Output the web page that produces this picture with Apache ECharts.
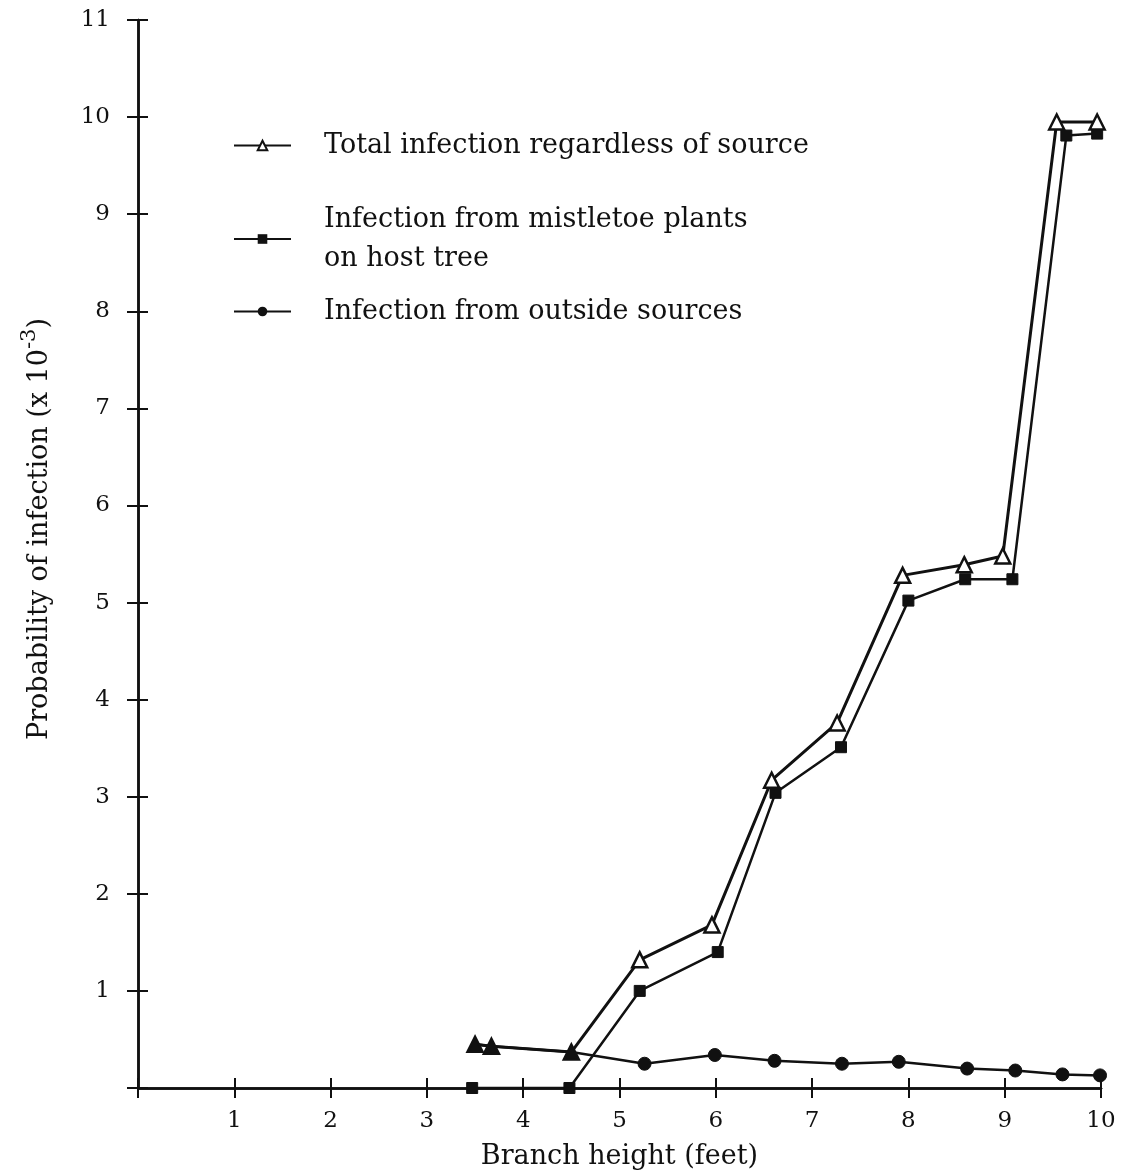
<!DOCTYPE html>
<html><head><meta charset="utf-8">
<script src="https://cdn.jsdelivr.net/npm/echarts@6/dist/echarts.min.js"></script>
<style>html,body{margin:0;padding:0;background:#fff}#c{width:1128px;height:1172px}</style>
</head><body><div id="c"></div>
<script>
// ---- data ----
const seriesNames = [
  'Total infection regardless of source',
  'Infection from mistletoe plants\non host tree',
  'Infection from outside sources'
];
const totalX = [3.50, 3.67, 4.50, 5.21, 5.96, 6.58, 7.26, 7.94, 8.58, 8.98, 9.54, 9.96];
const totalY = [0.45, 0.43, 0.37, 1.32, 1.68, 3.17, 3.76, 5.28, 5.39, 5.48, 9.95, 9.95];
const hostX  = [3.47, 4.48, 5.21, 6.02, 6.62, 7.30, 8.00, 8.59, 9.08, 9.64, 9.96];
const hostY  = [0.00, 0.00, 1.00, 1.40, 3.04, 3.51, 5.02, 5.24, 5.24, 9.81, 9.83];
const outX   = [3.50, 3.67, 4.50, 5.26, 5.99, 6.61, 7.31, 7.90, 8.61, 9.11, 9.60, 9.99];
const outY   = [0.45, 0.43, 0.37, 0.25, 0.34, 0.28, 0.25, 0.27, 0.20, 0.18, 0.14, 0.13];
// points where total coincides with outside source (drawn as filled triangles)
const sharedCount = 3;
const xTickLabels = ['', '1', '2', '3', '4', '5', '6', '7', '8', '9', '10'];
const yTickLabels = ['', '1', '2', '3', '4', '5', '6', '7', '8', '9', '10', '11'];
const xAxisName = 'Branch height (feet)';
const yAxisName = 'Probability of infection (x 10{sup|-3})';

// ---- chart ----
const FONT = 'DejaVu Serif';
const INK = '#111';
const zip = (xs, ys) => xs.map((x, i) => [x, ys[i]]);

const totalData = zip(totalX, totalY).map((p, i) => i < sharedCount
  ? { value: p, itemStyle: { color: INK, borderColor: INK } }
  : { value: p });
const outData = zip(outX, outY).map((p, i) => i < sharedCount
  ? { value: p, symbol: 'none' }
  : { value: p });

const gridBox = { left: 138, right: 27, top: 20, bottom: 84, containLabel: false, outerBoundsMode: 'none' };
const xBase = {
  type: 'value', min: 0, max: 10, interval: 1, position: 'bottom',
  axisLine: { show: true, onZero: false, lineStyle: { color: INK, width: 2.5 } },
  splitLine: { show: false }
};
const yBase = {
  type: 'value', min: 0, max: 11, interval: 1, position: 'left',
  axisLine: { show: true, onZero: false, lineStyle: { color: INK, width: 2.5 } },
  splitLine: { show: false }
};

const legendText = { fontFamily: FONT, fontSize: 27, color: INK, lineHeight: 39, padding: [0, 0, 0, 28] };
const legendCommon = {
  orient: 'vertical', left: 233, padding: 0, itemWidth: 57, itemHeight: 12, itemGap: 0,
  textStyle: legendText, selectedMode: false
};

const option = {
  backgroundColor: '#fff',
  animation: false,
  grid: [Object.assign({}, gridBox), Object.assign({}, gridBox)],
  legend: [
    Object.assign({}, legendCommon, { top: 126, data: [seriesNames[0]] }),
    Object.assign({}, legendCommon, { top: 200, data: [seriesNames[1]] }),
    Object.assign({}, legendCommon, { top: 292, data: [seriesNames[2]] })
  ],
  xAxis: [
    Object.assign({}, xBase, {
      gridIndex: 0,
      axisTick: { show: true, inside: false, length: 10, lineStyle: { color: INK, width: 2 } },
      axisLabel: {
        show: true, margin: 22, fontFamily: FONT, fontSize: 23, color: INK,
        formatter: v => xTickLabels[Math.round(v)] || ''
      },
      name: xAxisName, nameLocation: 'middle', nameGap: 55,
      nameTextStyle: { fontFamily: FONT, fontSize: 27, color: INK }
    }),
    Object.assign({}, xBase, {
      gridIndex: 1,
      axisTick: { show: true, inside: true, length: 10, lineStyle: { color: INK, width: 2 } },
      axisLabel: { show: false }
    })
  ],
  yAxis: [
    Object.assign({}, yBase, {
      gridIndex: 0,
      axisTick: { show: true, inside: false, length: 11, lineStyle: { color: INK, width: 2 } },
      axisLabel: {
        show: true, margin: 28, fontFamily: FONT, fontSize: 23, color: INK,
        formatter: v => yTickLabels[Math.round(v)] || ''
      },
      name: yAxisName, nameLocation: 'middle', nameGap: 78,
      nameTextStyle: {
        fontFamily: FONT, fontSize: 27, color: INK, padding: [0, 0, 0, 50],
        rich: { sup: { fontFamily: FONT, fontSize: 21, color: INK, padding: [0, 0, 20, 0] } }
      }
    }),
    Object.assign({}, yBase, {
      gridIndex: 1,
      axisTick: { show: true, inside: true, length: 10, lineStyle: { color: INK, width: 2 } },
      axisLabel: { show: false }
    })
  ],
  series: [
    {
      name: seriesNames[0], type: 'line', data: totalData,
      xAxisIndex: 0, yAxisIndex: 0,
      symbol: 'triangle', symbolSize: 15,
      lineStyle: { color: INK, width: 3 },
      itemStyle: { color: '#fff', borderColor: INK, borderWidth: 2.5 },
      z: 3
    },
    {
      name: seriesNames[1], type: 'line', data: zip(hostX, hostY),
      xAxisIndex: 0, yAxisIndex: 0,
      symbol: 'rect', symbolSize: 11,
      lineStyle: { color: INK, width: 2.5 },
      itemStyle: { color: INK, borderColor: INK },
      z: 2
    },
    {
      name: seriesNames[2], type: 'line', data: outData,
      xAxisIndex: 0, yAxisIndex: 0,
      symbol: 'circle', symbolSize: 13,
      lineStyle: { color: INK, width: 2.5 },
      itemStyle: { color: INK, borderColor: INK },
      z: 1
    }
  ]
};

const chart = echarts.init(document.getElementById('c'), null, { renderer: 'canvas' });
chart.setOption(option);
</script>
</body></html>
